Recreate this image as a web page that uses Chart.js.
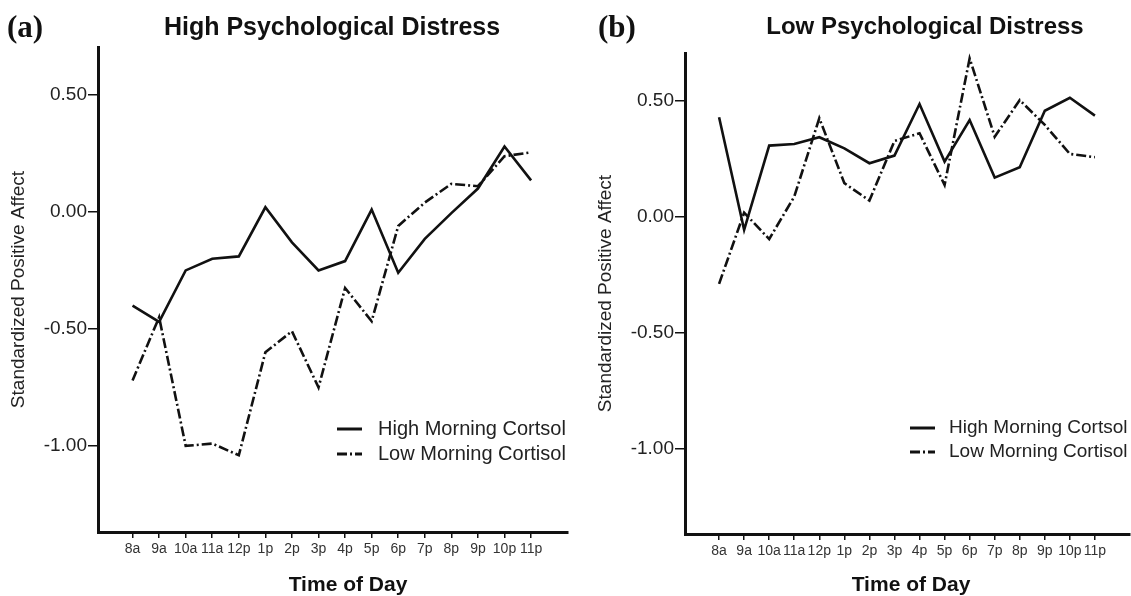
<!DOCTYPE html>
<html>
<head>
<meta charset="utf-8">
<script src="https://cdn.jsdelivr.net/npm/chart.js@4.4.1/dist/chart.umd.min.js"></script>
<style>
  body { margin: 0; background: #fff; }
  #page { position: relative; width: 1131px; height: 596px; overflow: hidden; font-family: "Liberation Sans", Arial, sans-serif; color: #111; }
  canvas { position: absolute; top: 0; }
  .lbl { position: absolute; transform: translate(-50%, -50%); white-space: nowrap; font-weight: bold; }
  .panel { position: absolute; font-family: "Liberation Serif", "Times New Roman", serif; font-weight: bold; font-size: 31px; transform: translateY(-50%); }
</style>
</head>
<body>
<div id="page">
  <canvas id="chartA" width="580" height="596" style="left:0"></canvas>
  <canvas id="chartB" width="551" height="596" style="left:580px"></canvas>
  <div class="panel" style="left:7px; top:27px">(a)</div>
  <div class="panel" style="left:598px; top:27px">(b)</div>
  <div class="lbl" style="left:332px; top:26px; font-size:25px">High Psychological Distress</div>
  <div class="lbl" style="left:925px; top:26px; font-size:24px">Low Psychological Distress</div>
  <div class="lbl" style="left:348px; top:584px; font-size:21px">Time of Day</div>
  <div class="lbl" style="left:911px; top:584px; font-size:21px">Time of Day</div>
</div>
<script>
const timeLabels = ['8a', '9a', '10a', '11a', '12p', '1p', '2p', '3p', '4p', '5p', '6p', '7p', '8p', '9p', '10p', '11p'];
const yTicks = [-1, -0.5, 0, 0.5];
const seriesNames = ['High Morning Cortsol', 'Low Morning Cortisol'];

// (a) high psychological distress
const highDistressHighCort = [-0.40, -0.47, -0.25, -0.20, -0.19, 0.02, -0.13, -0.25, -0.21, 0.01, -0.26, -0.115, -0.005, 0.10, 0.28, 0.135];
const highDistressLowCort = [-0.72, -0.45, -1.00, -0.99, -1.04, -0.60, -0.51, -0.75, -0.325, -0.467, -0.06, 0.04, 0.12, 0.11, 0.238, 0.255];

// (b) low psychological distress
const lowDistressHighCort = [0.428, -0.057, 0.306, 0.313, 0.342, 0.294, 0.23, 0.263, 0.485, 0.237, 0.416, 0.168, 0.213, 0.456, 0.512, 0.435];
const lowDistressLowCort = [-0.29, 0.017, -0.097, 0.086, 0.424, 0.144, 0.069, 0.326, 0.359, 0.136, 0.682, 0.344, 0.502, 0.395, 0.27, 0.256];

const dashDot = [10, 3, 2, 3];
const textFont = '"Liberation Sans", Arial, sans-serif';

// legend drawn inside the plot, like the original figure
const inlineLegend = {
  id: 'inlineLegend',
  afterDraw(chart, args, opts) {
    const ctx = chart.ctx;
    ctx.save();
    chart.data.datasets.forEach((ds, i) => {
      const y = opts.y + i * opts.gap;
      ctx.strokeStyle = '#111';
      ctx.lineWidth = 3;
      ctx.setLineDash(ds.borderDash || []);
      ctx.beginPath();
      ctx.moveTo(opts.x, y);
      ctx.lineTo(opts.x + 25, y);
      ctx.stroke();
      ctx.setLineDash([]);
      ctx.fillStyle = '#222';
      ctx.font = opts.size + 'px ' + textFont;
      ctx.textBaseline = 'middle';
      ctx.fillText(ds.label, opts.textX, y);
    });
    ctx.restore();
  }
};

function makeChart(id, highVals, lowVals, cfg) {
  const toPoints = vals => vals.map((v, i) => ({ x: i, y: v }));
  new Chart(document.getElementById(id), {
    type: 'line',
    data: {
      datasets: [
        { label: seriesNames[0], data: toPoints(highVals), borderColor: '#111', borderWidth: 2.6, pointRadius: 0, tension: 0 },
        { label: seriesNames[1], data: toPoints(lowVals), borderColor: '#111', borderWidth: 2.6, borderDash: dashDot, pointRadius: 0, tension: 0 }
      ]
    },
    options: {
      responsive: false,
      animation: false,
      devicePixelRatio: 1,
      layout: { padding: { top: cfg.top, right: cfg.right, left: cfg.left, bottom: 0 } },
      plugins: {
        legend: { display: false },
        tooltip: { enabled: false },
        inlineLegend: cfg.legend
      },
      scales: {
        x: {
          type: 'linear',
          min: cfg.xMin,
          max: cfg.xMax,
          afterBuildTicks: s => { s.ticks = timeLabels.map((_, i) => ({ value: i })); },
          afterFit: s => { s.height = cfg.xHeight; },
          ticks: {
            autoSkip: false,
            maxRotation: 0,
            padding: 3,
            color: '#333',
            font: { family: textFont, size: 14 },
            callback: v => timeLabels[v]
          },
          grid: { drawOnChartArea: false, tickLength: 6, color: '#111', lineWidth: 1.5 },
          border: { color: '#111', width: 3 }
        },
        y: {
          min: -1.368,
          max: 0.705,
          afterBuildTicks: s => { s.ticks = yTicks.map(v => ({ value: v })); },
          afterFit: s => { s.width = cfg.yWidth; },
          ticks: {
            padding: 1,
            color: '#222',
            font: { family: textFont, size: 19 },
            callback: v => v.toFixed(2)
          },
          grid: { drawOnChartArea: false, tickLength: 10, color: '#111', lineWidth: 1.5 },
          border: { color: '#111', width: 3 },
          title: {
            display: true,
            text: 'Standardized Positive Affect',
            color: '#222',
            padding: { top: 4, bottom: 0 },
            font: { family: textFont, size: 19 }
          }
        }
      }
    },
    plugins: [inlineLegend]
  });
}

makeChart('chartA', highDistressHighCort, highDistressLowCort, {
  top: 47, right: 12, left: 3, yWidth: 95, xHeight: 64,
  xMin: -1.3, xMax: 16.39,
  legend: { x: 337, textX: 378, y: 429, gap: 25, size: 20 }
});

makeChart('chartB', lowDistressHighCort, lowDistressLowCort, {
  top: 53, right: 1, left: 10, yWidth: 95, xHeight: 62,
  xMin: -1.36, xMax: 16.4,
  legend: { x: 330, textX: 369, y: 428, gap: 24, size: 19 }
});
</script>
</body>
</html>
